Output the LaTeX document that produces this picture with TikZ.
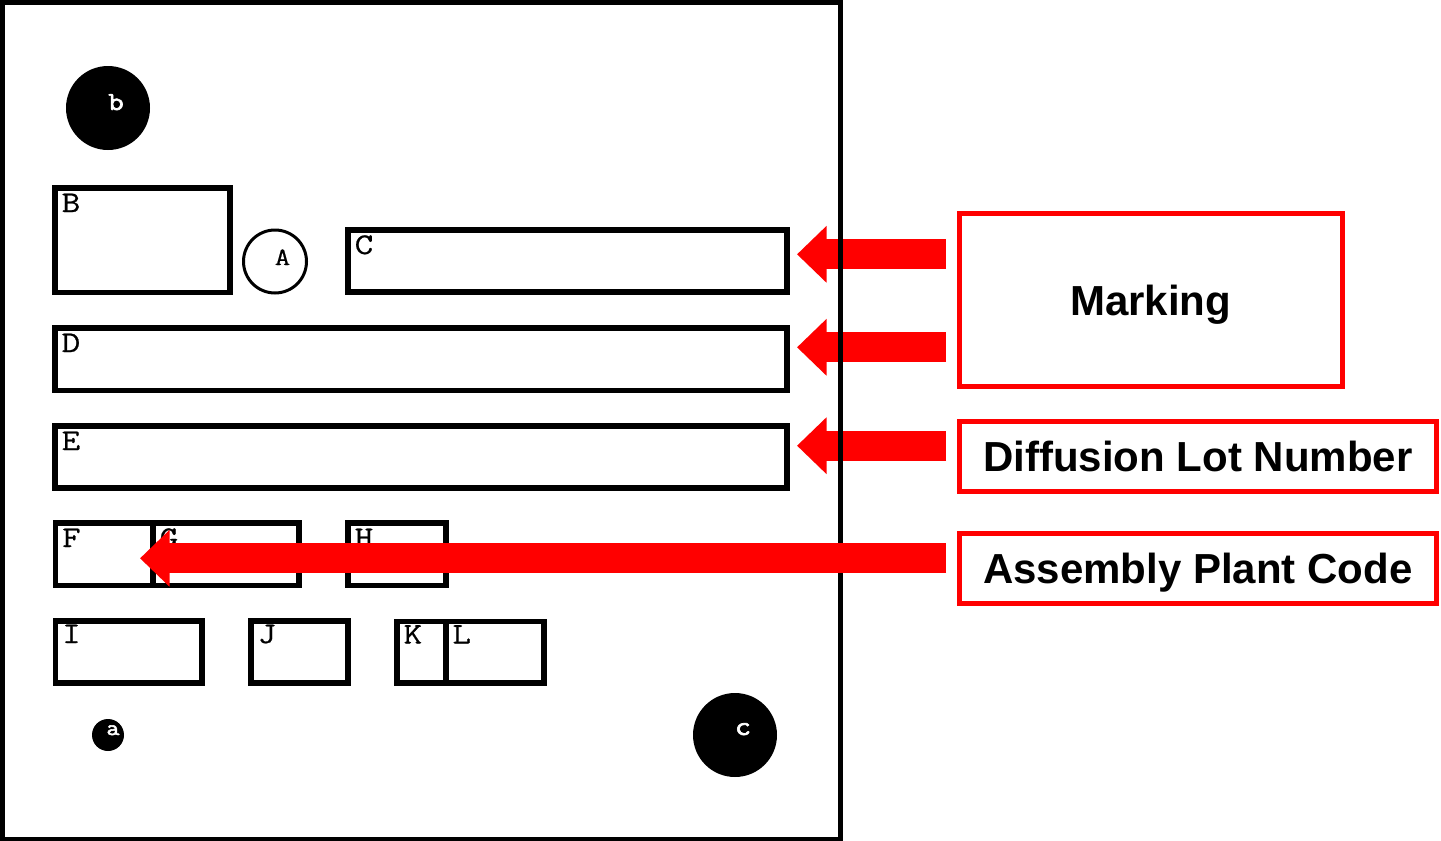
\documentclass[tikz,border=0pt]{standalone}
\usepackage{fontspec}
\newfontfamily\calloutfont{Liberation Sans}
\newfontfamily\fieldfont[FakeStretch=1.2, FakeBold=0.8]{Latin Modern Mono}
\newfontfamily\pinfont[FakeStretch=1.15, FakeBold=2.5]{Latin Modern Mono}
\usetikzlibrary{fit,arrows.meta}

\tikzset{
  frame/.style={draw=black, line width=5pt},
  box/.style={draw=black, line width=5.8pt, inner sep=0pt, outer sep=0pt, rectangle},
  boxlabel/.style={anchor=base west, inner sep=0pt,
    font=\fieldfont\fontsize{30}{30}\selectfont},
  dot/.style={circle, fill=black, inner sep=0pt, outer sep=0pt},
  ring/.style={circle, draw=black, line width=3pt, inner sep=0pt, outer sep=0pt},
  dotlabel/.style={anchor=base, inner sep=0pt, text=white},
  ringlabel/.style={anchor=base, inner sep=0pt,
    font=\fieldfont\fontsize{25}{25}\selectfont},
  redbox/.style={draw=red, line width=5pt, inner sep=0pt, outer sep=0pt, rectangle,
    text height=30pt, text depth=0pt,
    font=\calloutfont\bfseries\fontsize{42}{42}\selectfont},
  bigarrow/.style={draw=red, line width=30pt,
    -{Triangle[length=29.5pt, width=55pt]}}
}

\begin{document}
\begin{tikzpicture}[x=1pt, y=-1pt]
\useasboundingbox (0,0) rectangle (1441,841);

% ---- callout boxes on the right ----
\node[redbox, minimum width=383.5pt, minimum height=173.2pt] (marking) at (1150.75,300) {Marking};
\node[redbox, minimum width=477.5pt, minimum height=69.5pt] (lot) at (1197.75,456.25) {Diffusion Lot Number};
\node[redbox, minimum width=477.5pt, minimum height=69.5pt] (plant) at (1197.75,568.25) {Assembly Plant Code};

% arrow rows
\coordinate (r1) at (0,254.3);
\coordinate (r2) at (0,347.3);
\coordinate (r3) at (0,445.7);
\coordinate (r4) at (0,558.3);

% ---- package fields ----
\node[box, fit={(55,188) (230,292.5)}] (B) {};
\node[box, fit={(348,230) (787,292)}] (C) {};
\node[box, fit={(55,328) (787,390.5)}] (D) {};
\node[box, fit={(55,426) (787,488)}] (E) {};
\node[box, fit={(55.5,523) (153,585.5)}] (F) {};
\node[box, fit={(153,523) (299,585.5)}] (G) {};
\node[box, fit={(348,523) (446,585.5)}] (H) {};
\node[box, fit={(55.5,621) (202,683)}] (I) {};
\node[box, fit={(251,621) (348,683)}] (J) {};
\node[box, fit={(397,621.5) (445.7,683)}] (K) {};
\node[box, fit={(445.7,621.5) (544,683)}] (L) {};

\foreach \n in {B,C,D,E,F,G,H}
  \node[boxlabel] at ([shift={(6.5,24)}]\n.north west) {\n};
\foreach \n in {I,J,K,L}
  \node[boxlabel] at ([shift={(6.5,22)}]\n.north west) {\n};

% arrows into C, D, E (the outline passes over them)
\draw[bigarrow] ([xshift=-13pt]marking.west |- r1) -- ([xshift=10pt]C.east |- r1);
\draw[bigarrow] ([xshift=-13pt]marking.west |- r2) -- ([xshift=10pt]D.east |- r2);
\draw[bigarrow] ([xshift=-13pt]lot.west |- r3) -- ([xshift=10pt]E.east |- r3);

% package outline
\draw[frame] (2.5,2.5) rectangle (840,839);

% marks
\node[dot, minimum size=84pt] (pin1) at (108,108) {};
\node[dotlabel, font=\pinfont\fontsize{26}{26}\selectfont] at (116,110) {b};
\node[ring, minimum size=63pt] (A) at (275,261.5) {};
\node[ringlabel] at (282.5,265) {A};
\node[dot, minimum size=32pt] (pin2) at (108,735) {};
\node[dotlabel, font=\pinfont\fontsize{22}{22}\selectfont] at (113,735) {a};
\node[dot, minimum size=84pt] (pin3) at (735,735) {};
\node[dotlabel, font=\pinfont\fontsize{27}{27}\selectfont] at (743,735) {c};

% arrow into F (drawn over fields and outline)
\draw[bigarrow] ([xshift=-13pt]plant.west |- r4) -- ([xshift=-13pt]F.east |- r4);
\end{tikzpicture}
\end{document}
